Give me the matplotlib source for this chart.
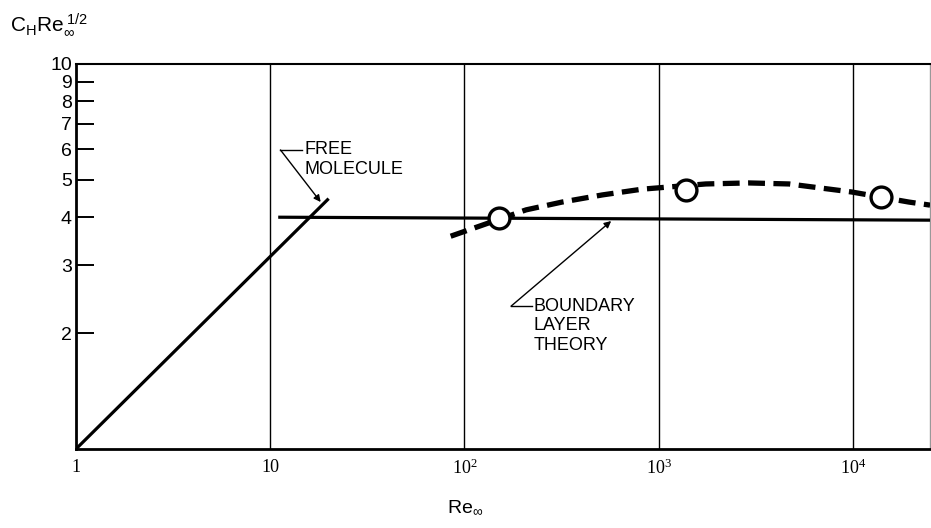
import numpy as np
import matplotlib
matplotlib.use("Agg")
import matplotlib.pyplot as plt

plt.rcParams['mathtext.fontset'] = 'custom'
plt.rcParams['mathtext.rm'] = 'Liberation Serif'
plt.rcParams['mathtext.sf'] = 'Liberation Sans'
plt.rcParams['mathtext.it'] = 'Liberation Serif:italic'
plt.rcParams['mathtext.bf'] = 'Liberation Serif:bold'

# === Data ===
free_x = [1, 20]
free_y = [1.0, 4.47]

bl_x = [11, 25000]
bl_y = [4.0, 3.93]

exp_x = [85, 208, 319, 513, 822, 1750, 2900, 4700, 6900, 9900, 19400, 25000]
exp_y = [3.57, 4.18, 4.38, 4.57, 4.73, 4.88, 4.91, 4.88, 4.76, 4.65, 4.38, 4.30]

pts_x = [151, 1385, 13900]
pts_y = [3.97, 4.71, 4.51]

xtick_vals = [1, 10, 100, 1000, 10000]
xtick_labels = ['1', '10', r'$10^{2}$', r'$10^{3}$', r'$10^{4}$']
ytick_vals = [2, 3, 4, 5, 6, 7, 8, 9, 10]
ytick_labels = ['2', '3', '4', '5', '6', '7', '8', '9', '10']

# === Plot ===
fig = plt.figure(figsize=(9.31, 5.28), dpi=100)
ax = fig.add_axes([0.0816, 0.1496, 0.9174, 0.7292])
ax.set_xscale('log')
ax.set_yscale('log')
ax.set_xlim(1, 25000)
ax.set_ylim(1, 10)

# vertical grid lines at decades
for gx in xtick_vals[1:]:
    ax.axvline(gx, color='black', lw=1.0, zorder=1)

ax.plot(free_x, free_y, color='black', lw=2.3, solid_capstyle='butt', zorder=3)
ax.plot(bl_x, bl_y, color='black', lw=2.3, solid_capstyle='butt', zorder=3)
ax.plot(exp_x, exp_y, color='black', lw=3.8, dashes=(3.2, 1.6), zorder=3)
ax.plot(pts_x, pts_y, 'o', ms=15, mfc='white', mec='black', mew=2.4,
        zorder=4, clip_on=False)

# ticks
ax.set_xticks(xtick_vals)
ax.set_xticklabels(xtick_labels, fontsize=13, family='Liberation Serif')
ax.xaxis.set_minor_locator(matplotlib.ticker.NullLocator())
ax.tick_params(axis='x', which='both', length=0, pad=7)

ax.set_yticks(ytick_vals)
ax.set_yticklabels(ytick_labels, fontsize=14, family='Liberation Sans')
ax.yaxis.set_minor_locator(matplotlib.ticker.NullLocator())
ax.tick_params(axis='y', which='both', direction='in', length=13, width=1.4, pad=3)
ax.yaxis.get_major_ticks()[-1].tick1line.set_visible(False)

for s in ['left', 'bottom']:
    ax.spines[s].set_linewidth(2.0)
ax.spines['top'].set_linewidth(1.5)
ax.spines['right'].set_linewidth(1.0)
ax.spines['right'].set_color('#999999')

# axis titles
fig.text(0.011, 0.953, r'$\mathsf{C_H Re_{\infty}^{\ 1/2}}$', fontsize=15, va='center')
fig.text(0.50, 0.040, r'$\mathsf{Re_{\infty}}$', fontsize=14, ha='center', va='center')

# annotations
lab_font = dict(fontsize=13, family=['Liberation Sans Narrow', 'Liberation Sans'],
                linespacing=1.2)
ax.plot([11.3, 14.6], [5.98, 5.98], color='black', lw=1.0, clip_on=False)
ax.annotate('', xy=(18.2, 4.38), xytext=(11.3, 5.98),
            arrowprops=dict(arrowstyle='-|>', color='black', lw=1.0,
                            mutation_scale=10, shrinkA=0, shrinkB=0))
ax.text(15.0, 6.3, 'FREE\nMOLECULE', va='top', ha='left', **lab_font)

ax.plot([174, 222], [2.35, 2.35], color='black', lw=1.0)
ax.annotate('', xy=(570, 3.91), xytext=(174, 2.35),
            arrowprops=dict(arrowstyle='-|>', color='black', lw=1.0,
                            mutation_scale=10, shrinkA=0, shrinkB=0))
ax.text(226, 2.47, 'BOUNDARY\nLAYER\nTHEORY', va='top', ha='left', **lab_font)

fig.savefig('out.png', dpi=100)
